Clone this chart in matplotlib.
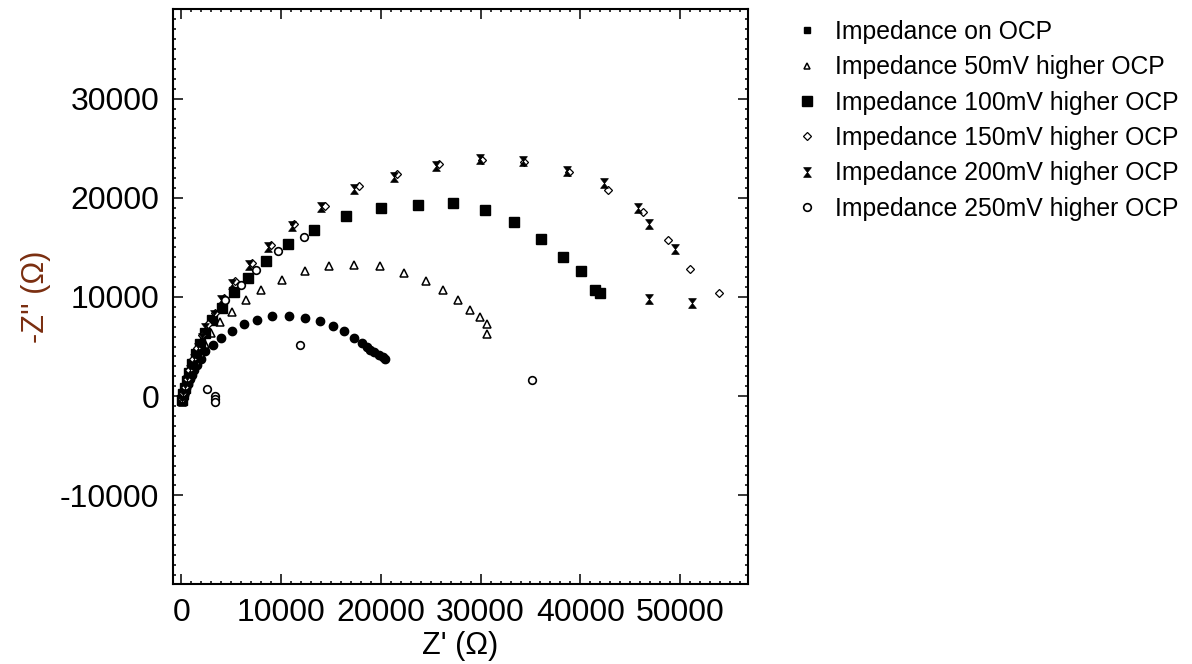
import matplotlib
matplotlib.use("Agg")
import matplotlib.pyplot as plt
from matplotlib.path import Path
from matplotlib.lines import Line2D
from matplotlib.ticker import MultipleLocator

plt.rcParams['font.family'] = ['Liberation Sans', 'DejaVu Sans']
plt.rcParams['axes.unicode_minus'] = False

# ---------------- data (Z' , -Z'') in Ohm ----------------
labels = ["Impedance on OCP", "Impedance 50mV higher OCP", "Impedance 100mV higher OCP",
          "Impedance 150mV higher OCP", "Impedance 200mV higher OCP", "Impedance 250mV higher OCP"]

ocp_x = [150, 250, 350, 500, 650, 850, 1050, 1300, 1600, 1950,
         2405, 3176, 4008, 5040, 6283, 7585, 9119, 10792, 12355, 13928,
         15230, 16262, 17264, 18106, 18607, 18938, 19269, 19770, 20171, 20441]
ocp_y = [-300, 100, 450, 850, 1250, 1700, 2150, 2600, 3100, 3700,
         4516, 5161, 5826, 6532, 7238, 7711, 8114, 8114, 7913, 7580,
         7036, 6532, 5826, 5363, 4990, 4687, 4455, 4183, 3951, 3780]

mv50_x = [100, 200, 350, 550, 800, 1100, 1450, 1850, 2350,
          3006, 3908, 5080, 6483, 7986, 10070, 12425, 14830, 17335, 19900,
          22275, 24520, 26183, 27726, 28888, 29890, 30631, 30631]
mv50_y = [-200, 300, 750, 1300, 1950, 2700, 3500, 4400, 5300,
          6371, 7479, 8487, 9727, 10665, 11703, 12650, 13084, 13225, 13174,
          12418, 11572, 10705, 9697, 8649, 7983, 7308, 6270]

mv100_x = [100, 200, 350, 550, 800, 1100, 1450, 1900,
           2405, 3076, 4078, 5240, 6643, 8517, 10691, 13296, 16503, 19970,
           23677, 27254, 30461, 33367, 36072, 38247, 40110, 41513, 42014]
mv100_y = [-400, 200, 800, 1500, 2300, 3200, 4200, 5300,
           6371, 7711, 8891, 10503, 11945, 13658, 15372, 16713, 18124, 18971,
           19303, 19475, 18799, 17590, 15876, 13991, 12620, 10735, 10403]

mv150_x = [80, 180, 330, 530, 800, 1150, 1600, 2100, 2700,
           3407, 4238, 5411, 7084, 9018, 11323, 14359, 17766, 21613, 25781,
           30130, 34398, 38907, 42755, 46322, 48767, 51002, 53908]
mv150_y = [-300, 300, 900, 1700, 2600, 3700, 4900, 6200, 7300,
           8387, 9899, 11572, 13427, 15271, 17388, 19203, 21148, 22398, 23436,
           23769, 23567, 22559, 20745, 18568, 15705, 12781, 10403]

mv200_x = [120, 220, 380, 600, 900, 1250, 1700, 2050,
           2405, 3236, 3978, 5110, 6814, 8687, 11092, 13998, 17335, 21271,
           25551, 29960, 34239, 38677, 42355, 45762, 46924, 49469, 46924, 51172]
mv200_y = [-500, 100, 800, 1600, 2600, 3700, 4900, 5900,
           6875, 8215, 9727, 11340, 13255, 15039, 17116, 19031, 20886, 22105,
           23234, 23910, 23738, 22730, 21450, 18971, 17388, 14868, 9828, 9395]

mv250_x = [4339, 6012, 7515, 9719, 12295, 11924, 35200, 2575, 3407, 3407, 3407]
mv250_y = [9727, 11239, 12751, 14667, 16027, 5121, 1663, 706, -20, -282, -605]

# hourglass marker
hourglass = Path([(-0.8, 1), (0.8, 1), (-0.8, -1), (0.8, -1), (-0.8, 1)],
                 [Path.MOVETO, Path.LINETO, Path.LINETO, Path.LINETO, Path.CLOSEPOLY])

fig = plt.figure(figsize=(11.92, 6.64), dpi=100)
ax = fig.add_axes([173/1192, 1-584/664, 575/1192, 575/664])

ax.plot(ocp_x, ocp_y, ls='none', marker='o', ms=6, mfc='black', mec='black')
ax.plot(mv50_x, mv50_y, ls='none', marker='^', ms=5.5, mfc='white', mec='black', mew=1.1)
ax.plot(mv100_x, mv100_y, ls='none', marker='s', ms=6.5, mfc='black', mec='black')
ax.plot(mv150_x, mv150_y, ls='none', marker='D', ms=4.5, mfc='white', mec='black', mew=0.9)
ax.plot(mv200_x, mv200_y, ls='none', marker=hourglass, ms=7, mfc='black', mec='black', mew=0.5)
ax.plot(mv250_x, mv250_y, ls='none', marker='o', ms=5.5, mfc='white', mec='black', mew=1.2)

ax.set_xlim(-830, 56800)
ax.set_ylim(-18950, 39050)
ax.xaxis.set_major_locator(MultipleLocator(10000))
ax.xaxis.set_minor_locator(MultipleLocator(1000))
ax.yaxis.set_major_locator(MultipleLocator(10000))
ax.yaxis.set_minor_locator(MultipleLocator(1000))
ax.tick_params(which='both', direction='in', top=True, right=True, width=1.1)
ax.tick_params(which='major', length=7, labelsize=23, pad=10)
ax.tick_params(which='minor', length=2.5)
for s in ax.spines.values():
    s.set_linewidth(1.5)

ax.set_xlabel("Z' (\u03a9)", fontsize=22, labelpad=2)
ax.set_ylabel("-Z'' (\u03a9)", fontsize=22, color='#7a2e10', labelpad=6)

handles = [
    Line2D([], [], ls='none', marker='s', ms=4.5, mfc='black', mec='black'),
    Line2D([], [], ls='none', marker='^', ms=5, mfc='white', mec='black', mew=1.1),
    Line2D([], [], ls='none', marker='s', ms=6.5, mfc='black', mec='black'),
    Line2D([], [], ls='none', marker='D', ms=4.5, mfc='white', mec='black', mew=0.9),
    Line2D([], [], ls='none', marker=hourglass, ms=7, mfc='black', mec='black', mew=0.5),
    Line2D([], [], ls='none', marker='o', ms=5.5, mfc='white', mec='black', mew=1.2),
]
fig.legend(handles, labels, loc='upper left', bbox_to_anchor=(795/1192, 1-20/664),
           frameon=False, fontsize=17.8, handlelength=1.0, handletextpad=0.6,
           labelspacing=0.46, borderpad=0, borderaxespad=0)

fig.savefig("out.png", dpi=100)
